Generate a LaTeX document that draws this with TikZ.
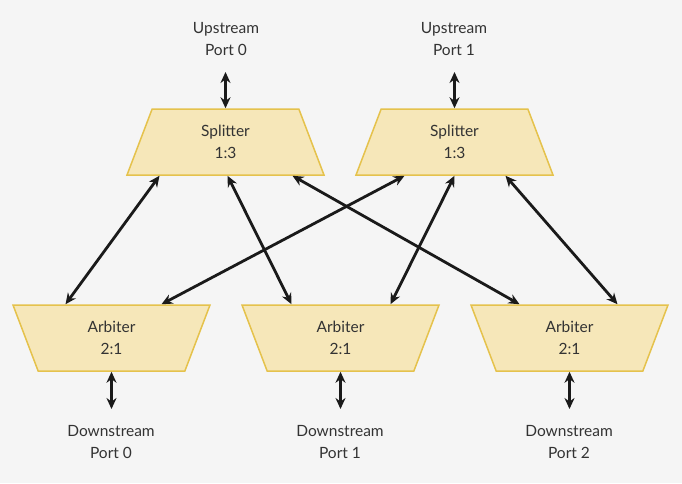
\documentclass[tikz,border=0pt]{standalone}
\usepackage{fontspec}
\setmainfont{Lato}
\usetikzlibrary{shapes.geometric,arrows.meta,calc}
\definecolor{bgcol}{HTML}{F5F5F5}
\definecolor{boxfill}{HTML}{F6E7B9}
\definecolor{boxline}{HTML}{E5C24C}
\definecolor{txtcol}{HTML}{333333}
\definecolor{arrcol}{HTML}{1A1A1A}

\begin{document}
\begin{tikzpicture}[
    x=1pt, y=-1pt,
    every node/.style={font=\fontsize{15.5}{22}\selectfont, text=txtcol, align=center},
    block/.style={trapezium, draw=boxline, fill=boxfill, line width=1.5pt,
      trapezium angle=53.13, trapezium stretches body,
      minimum width=197pt, minimum height=66pt, inner sep=0pt},
    splitter/.style={block},
    arbiter/.style={block, shape border rotate=180},
    link/.style={draw=arrcol, line width=2.8pt,
      {Stealth[length=11pt,width=10pt]}-{Stealth[length=11pt,width=10pt]}}
  ]

  \fill[bgcol] (0,0) rectangle (682,483);

  % splitters and arbiters
  \node[splitter] (s0) at (225.5,142) {Splitter\\1:3};
  \node[splitter] (s1) at (454.5,142) {Splitter\\1:3};
  \node[arbiter] (a0) at (111.5,338) {Arbiter\\2:1};
  \node[arbiter] (a1) at (340.5,338) {Arbiter\\2:1};
  \node[arbiter] (a2) at (569.5,338) {Arbiter\\2:1};

  % ports
  \node (up0) at (226,39) {Upstream\\Port 0};
  \node (up1) at (454,39) {Upstream\\Port 1};
  \node (dn0) at (111,442) {Downstream\\Port 0};
  \node (dn1) at (340,442) {Downstream\\Port 1};
  \node (dn2) at (569,442) {Downstream\\Port 2};

  \coordinate (u0) at (225.5,72);
  \coordinate (u1) at (454.5,72);
  \coordinate (d0) at (111.5,409);
  \coordinate (d1) at (340.5,409);
  \coordinate (d2) at (569.5,409);

  \draw[link] (u0) -- (s0.north);
  \draw[link] (u1) -- (s1.north);
  \draw[link] (a0.south) -- (d0);
  \draw[link] (a1.south) -- (d1);
  \draw[link] (a2.south) -- (d2);

  % crossbar
  \draw[link] ($(s0.south)+(-66,0)$) -- ($(a0.north)+(-46,0)$);
  \draw[link] ($(s0.south)+(2,0)$) -- ($(a1.north)+(-49,0)$);
  \draw[link] ($(s0.south)+(67,0)$) -- ($(a2.north)+(-50,0)$);
  \draw[link] ($(s1.south)+(-50,0)$) -- ($(a0.north)+(50,0)$);
  \draw[link] ($(s1.south)+(0,0)$) -- ($(a1.north)+(50,0)$);
  \draw[link] ($(s1.south)+(51,0)$) -- ($(a2.north)+(48,0)$);

\end{tikzpicture}
\end{document}
